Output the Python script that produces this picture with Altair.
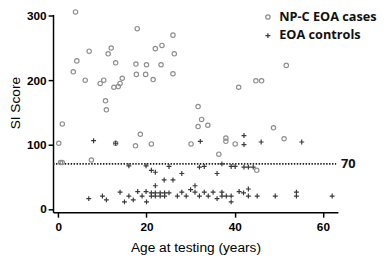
import altair as alt
import pandas as pd

# NP-C EOA cases (open circles)
case_age = [3.9, 3.4, 4.2, 7.0, 6.1, 9.5, 10.3, 10.7, 10.9, 11.3, 12.0, 13.0, 12.6, 13.6,
            14.0, 14.5, 17.9, 17.6, 17.7, 19.8, 20.0, 21.5, 22.0, 23.5, 23.3, 26.0, 26.3, 26.0,
            0.9, 0.1, 0.5, 0.9, 7.5, 13.0, 17.5, 18.6, 21.1, 30.1,
            31.7, 32.5, 31.7, 33.9, 38.0, 38.0, 40.1, 36.4, 40.9, 44.8, 46.1, 48.8, 51.2, 51.7, 45.0]
case_score = [306, 213, 230, 245, 200, 195, 200, 168, 154, 241, 250, 227, 189, 190,
              195, 203, 280, 225, 209, 209, 224, 201, 249, 254, 224, 270, 241, 210,
              132, 102, 72, 72, 76, 102, 98, 116, 101, 101,
              159, 139, 128, 130, 110, 105, 101, 85, 189, 199, 199, 126, 109, 223, 60]

# EOA controls (plus signs)
ctrl_age = [8.0, 13.0, 32.2, 42.1, 42.1, 46.0, 55.2,
            16.0, 19.9, 21.1, 22.0, 25.1, 28.0, 32.0, 33.1, 36.0, 37.1, 39.2, 40.1, 42.1, 43.1, 44.2,
            24.0, 26.0, 22.0, 31.0,
            6.9, 10.0, 10.9, 14.0, 15.0, 16.0, 17.0, 18.0, 19.0, 19.9, 20.0,
            21.1, 22.0, 23.1, 24.1, 25.1,
            21.1, 22.0, 23.1, 24.1,
            27.0, 28.0, 29.0, 30.0, 31.0, 32.0, 33.1, 34.0, 35.1, 36.0, 37.1, 37.1, 38.1,
            39.2, 39.2, 41.0, 42.0, 43.1, 43.1, 45.1, 49.2, 54.0, 54.0, 62.1]
ctrl_score = [106, 102, 105, 114, 100, 104, 104,
              67, 67, 60, 57, 66, 55, 65, 66, 55, 70, 66, 66, 65, 65, 65,
              45, 45, 36, 36,
              16, 20, 14, 26, 11, 20, 14, 27, 20, 27, 11,
              25, 25, 25, 25, 25,
              20, 20, 20, 20,
              20, 26, 20, 30, 26, 20, 26, 20, 26, 16, 26, 20, 20,
              20, 11, 27, 25, 31, 20, 20, 20, 26, 20, 20]

groups = ["NP-C EOA cases", "EOA controls"]
threshold = [70]
x_ticks = [0, 20, 40, 60]
y_ticks = [0, 100, 200, 300]

df = pd.concat([
    pd.DataFrame({"age": case_age, "score": case_score, "group": groups[0]}),
    pd.DataFrame({"age": ctrl_age, "score": ctrl_score, "group": groups[1]}),
], ignore_index=True)

thr_df = pd.DataFrame({"x0": [-1.2], "x1": [63], "y": threshold,
                       "label": [str(t) for t in threshold]})

PLUS = "M-1,0H1M0,-1V1"
FONT = "Liberation Sans"

xscale = alt.Scale(domain=[-1.2, 63.4], nice=False, zero=False)
yscale = alt.Scale(domain=[-5.2, 302], nice=False, zero=False)

leg = alt.Legend(title=None, orient="none", legendX=213, legendY=-4,
                 labelFont="Open Sans", labelFontWeight="bold", labelFontSize=13,
                 labelColor="#111", labelOffset=5, rowPadding=5, symbolSize=30,
                 symbolStrokeWidth=1.3)

points = alt.Chart(df).mark_point(filled=False, strokeWidth=1.2, opacity=1).encode(
    x=alt.X("age:Q", scale=xscale,
            axis=alt.Axis(values=x_ticks, title="Age at testing (years)",
                          labelPadding=5, titlePadding=8)),
    y=alt.Y("score:Q", scale=yscale,
            axis=alt.Axis(values=y_ticks, title="SI Score", titleY=90)),
    color=alt.Color("group:N", scale=alt.Scale(domain=groups, range=["#8f8f8f", "#3a3a3a"]),
                    legend=leg),
    shape=alt.Shape("group:N", scale=alt.Scale(domain=groups, range=["circle", PLUS]),
                    legend=leg),
    size=alt.Size("group:N", scale=alt.Scale(domain=groups, range=[20, 25]), legend=None),
)

rule = alt.Chart(thr_df).mark_rule(strokeDash=[1.5, 1.5], strokeWidth=2, color="#222").encode(
    x=alt.X("x0:Q", scale=xscale), x2="x1:Q", y=alt.Y("y:Q", scale=yscale))

label = alt.Chart(thr_df).mark_text(align="left", baseline="middle", dx=5, fontSize=13,
                                    fontWeight="bold", font="Open Sans", color="#111").encode(
    x=alt.X("x1:Q", scale=xscale), y=alt.Y("y:Q", scale=yscale), text="label:N")

chart = alt.layer(rule, label, points).properties(
    width=291, height=202,
    autosize=alt.AutoSizeParams(type="none"),
    padding={"left": 46, "top": 4, "right": 42, "bottom": 42},
).configure_view(stroke=None).configure_axis(
    grid=False, domainColor="#000", domainWidth=1.5, tickColor="#000", tickWidth=1.5,
    tickSize=5, labelFont=FONT, labelFontSize=12, labelFontWeight="bold", labelColor="#000",
    titleFont=FONT, titleFontSize=14, titleFontWeight="normal", titleColor="#000",
)

chart.save("out.html", embed_options={"renderer": "svg", "actions": False})
